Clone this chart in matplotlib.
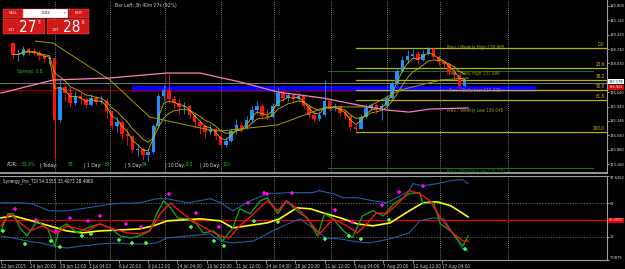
import matplotlib
matplotlib.use("Agg")
import matplotlib.pyplot as plt
import numpy as np
import pandas as pd
from matplotlib.patches import Rectangle

W, H = 625, 269
plt.rcParams['font.family'] = ['Liberation Sans Narrow', 'DejaVu Sans']
plt.rcParams['font.stretch'] = 'condensed'
FS = 3.3
AX_FS = 2.9

# ---- price candles (one candle = 3 H4 bars), first candle at bar 7
bar0 = 7
open0 = 139.00
closes = [138.45, 138.45, 138.70, 138.60, 138.55, 138.40, 138.25, 138.30, 135.30, 136.90,
          136.60, 136.10, 136.45, 136.30, 136.00, 136.35, 136.15, 136.20, 135.70, 135.00,
          135.20, 134.60, 134.50, 133.85, 133.90, 133.60, 133.75, 135.00, 136.45, 136.75,
          136.30, 136.10, 135.90, 135.95, 135.55, 135.20, 135.00, 134.70, 134.85, 134.50,
          134.10, 134.25, 134.75, 135.05, 134.90, 135.30, 135.75, 135.95, 135.50, 135.45,
          135.95, 136.60, 136.35, 136.50, 136.30, 136.45, 135.95, 135.55, 135.35, 135.55,
          136.20, 135.85, 135.95, 135.65, 135.50, 134.95, 134.85, 135.45, 135.85, 136.00,
          135.85, 135.95, 136.35, 137.05, 137.65, 138.20, 138.40, 138.50, 138.20, 138.50,
          138.70, 138.35, 138.10, 138.00, 137.60, 137.45, 136.95, 137.18]
highs = [139.05, 138.70, 138.85, 138.80, 138.75, 138.65, 138.50, 138.45, 138.35, 137.20,
         137.00, 136.90, 136.70, 136.60, 136.40, 136.55, 136.45, 136.50, 136.35, 135.70,
         135.45, 135.30, 134.90, 134.50, 134.15, 134.00, 133.95, 135.10, 136.60, 137.00,
         137.50, 136.45, 136.30, 136.15, 136.00, 135.60, 135.30, 135.10, 135.10, 134.90,
         134.60, 134.45, 134.85, 135.35, 135.20, 135.50, 135.95, 136.20, 136.05, 135.80,
         136.10, 136.90, 136.75, 136.65, 136.55, 136.60, 136.50, 136.00, 135.70, 135.70,
         137.20, 136.25, 136.10, 136.00, 135.80, 135.55, 135.10, 135.55, 136.05, 136.10,
         136.10, 136.10, 136.45, 137.15, 137.80, 138.40, 138.65, 138.75, 138.60, 138.65,
         138.80, 138.80, 138.45, 138.20, 138.10, 137.70, 137.45, 137.25]
lows = [138.30, 138.15, 138.40, 138.45, 138.40, 138.20, 138.05, 138.00, 133.40, 135.20,
        136.20, 135.90, 136.00, 136.05, 135.85, 135.95, 136.00, 136.05, 135.40, 134.80,
        134.70, 134.30, 134.10, 133.70, 133.55, 133.35, 133.30, 133.70, 134.90, 136.20,
        136.10, 135.80, 135.60, 135.60, 135.40, 134.90, 134.60, 134.40, 134.55, 134.30,
        133.95, 134.00, 134.20, 134.60, 134.70, 134.85, 135.20, 135.60, 135.35, 135.30,
        135.40, 135.95, 136.20, 136.20, 136.15, 136.20, 135.80, 135.40, 135.20, 135.25,
        135.50, 135.70, 135.70, 135.50, 135.35, 134.80, 134.70, 134.85, 135.40, 135.75,
        135.65, 135.30, 135.85, 136.30, 137.00, 137.60, 138.05, 138.30, 138.00, 138.15,
        138.45, 138.25, 137.95, 137.80, 137.45, 137.25, 136.85, 136.90]

# slow moving average and pink moving average, read as points (bar, price)
slow_x = [20, 30, 63, 86, 121, 127, 160, 188, 212, 231, 254, 270]
slow_y = [139.10, 139.01, 137.22, 135.43, 134.80, 134.76, 135.05, 135.92, 135.92, 136.74, 137.22, 137.32]
pink_x = [0, 30, 63, 96, 115, 138, 160, 186, 212, 223, 236, 248, 270]
pink_y = [136.59, 137.22, 137.32, 137.56, 137.56, 137.13, 136.64, 136.35, 135.92, 135.77, 135.67, 135.82, 135.87]

price_ticks = [140.800, 140.120, 139.420, 138.720, 138.030, 136.640, 135.940, 135.248, 134.550, 133.860, 133.160]
last_price = 137.08
red_line = 136.74
blue_zone = (76, 309, 136.66, 136.95)
fib_ratios = [0.0, 23.6, 38.2, 50.0, 61.8, 100.0]
fib_high, fib_low, fib_start = 138.77, 134.71, 205
green_lines = [137.66, 132.97]
separators = [31, 63, 95, 127, 158, 191, 223, 254, 293]

# ---- TDI indicator, read as points (bar, value)
up_x = [0, 11, 18, 28, 38, 50, 65, 80, 90, 96, 108, 121, 127, 134, 144, 154, 167, 180, 184, 192, 198,
        206, 215, 223, 231, 236, 238, 244, 252, 260, 267, 270]
up_v = [68.6, 68.6, 67.5, 60.0, 60.0, 63.2, 67.5, 68.6, 72.9, 72.9, 68.6, 72.9, 68.6, 60.0, 70.7, 78.3,
        79.4, 79.4, 81.5, 78.3, 74.0, 74.0, 70.7, 68.6, 76.1, 81.5, 89.0, 86.9, 89.0, 92.3, 93.3, 89.0]
lo_x = [0, 7, 15, 23, 30, 38, 47, 57, 67, 76, 84, 90, 96, 108, 121, 127, 134, 146, 157, 167, 173,
        180, 188, 196, 203, 212, 219, 227, 236, 242, 250, 256, 261, 267, 270]
lo_v = [33.1, 31.0, 27.7, 25.6, 22.4, 20.2, 22.4, 24.5, 25.6, 24.5, 24.5, 25.6, 31.0, 33.1, 35.3, 27.7,
        25.6, 27.7, 38.5, 47.1, 51.4, 41.7, 31.0, 29.9, 27.7, 25.6, 27.7, 31.0, 36.4, 49.2, 52.5, 51.4,
        36.4, 19.1, 17.0]
base_x = [0, 7, 18, 28, 38, 47, 57, 69, 80, 88, 96, 105, 115, 127, 134, 142, 154, 161, 171, 179, 186,
          196, 206, 215, 225, 236, 244, 252, 260, 270]
base_v = [52.5, 54.6, 49.2, 43.9, 38.5, 36.4, 38.5, 39.6, 40.6, 43.9, 49.2, 50.3, 51.4, 49.2, 41.7, 43.9,
          47.1, 51.4, 63.2, 62.1, 57.9, 52.5, 46.0, 43.9, 47.1, 60.0, 68.6, 69.6, 65.4, 53.5]
rsi_x = [0, 4, 7, 11, 15, 21, 27, 31, 34, 38, 44, 50, 57, 63, 69, 75, 80, 86, 90, 94, 98, 102, 108,
         113, 117, 123, 128, 134, 138, 144, 150, 154, 160, 165, 171, 177, 183, 187, 192, 198, 203, 209,
         215, 221, 227, 236, 242, 244, 250, 254, 260, 267, 270]
rsi_v = [38.5, 56.8, 56.8, 41.7, 33.1, 49.2, 40.6, 22.4, 41.7, 46.0, 36.4, 41.7, 46.0, 41.7, 33.1, 31.0,
         33.1, 38.5, 56.8, 70.7, 63.2, 52.5, 51.4, 46.0, 36.4, 38.5, 27.7, 41.7, 62.1, 56.8, 70.7, 74.0,
         56.8, 70.7, 60.0, 52.5, 33.1, 56.8, 51.4, 38.5, 31.0, 54.6, 60.0, 54.6, 67.5, 78.3, 79.4, 67.5,
         68.6, 46.0, 38.5, 22.4, 33.1]
sig_x = [0, 5, 11, 17, 24, 32, 38, 50, 57, 65, 73, 80, 86, 92, 98, 103, 111, 121, 127, 132, 138, 146,
         154, 160, 165, 173, 179, 184, 192, 200, 206, 212, 217, 223, 231, 236, 242, 248, 254, 261, 267, 270]
sig_v = [43.9, 56.8, 47.1, 38.5, 43.9, 35.3, 43.9, 38.5, 46.0, 40.6, 36.4, 35.3, 38.5, 56.8, 68.6, 60.0,
         49.2, 38.5, 33.1, 31.0, 43.9, 56.8, 70.7, 60.0, 70.7, 60.0, 47.1, 35.3, 51.4, 43.9, 36.4, 47.1,
         57.9, 56.8, 70.7, 81.5, 78.3, 70.7, 52.5, 36.4, 27.7, 27.7]
sell_x = [8, 20, 32, 40, 50, 57, 72, 81, 97, 113, 126, 143, 152, 154, 168, 193, 203, 220, 230, 244]
sell_v = [62.1, 50.3, 38.5, 52.5, 49.2, 54.6, 46.0, 42.8, 78.3, 57.9, 42.8, 68.6, 79.4, 78.3, 79.4,
          61.1, 48.2, 66.4, 80.4, 86.9]
buy_x = [1, 14, 29, 34, 47, 52, 68, 76, 84, 110, 123, 129, 146, 160, 187, 201, 208, 224, 268]
buy_v = [38.5, 24.5, 27.7, 21.3, 33.1, 35.3, 28.8, 25.6, 25.6, 42.8, 27.7, 22.4, 49.2, 48.2, 29.9,
         33.1, 29.9, 50.3, 19.1]

tdi_ticks = [97.6262, 68, 32, 7.0879]
date_labels = ["22 Jun 2015", "24 Jun 20:00", "29 Jun 12:00", "3 Jul 04:00", "6 Jul 20:00",
               "9 Jul 12:00", "14 Jul 04:00", "16 Jul 20:00", "21 Jul 12:00", "24 Jul 04:00",
               "28 Jul 20:00", "31 Jul 12:00", "5 Aug 04:00", "7 Aug 20:00", "12 Aug 12:00",
               "17 Aug 04:00"]


def fx(px):
    return px / W


def fy(py):
    return 1 - py / H


fig = plt.figure(figsize=(W / 100, H / 100), dpi=100, facecolor='black')
ax1 = fig.add_axes([0, fy(173), fx(607), 173 / H], facecolor='black')
ax2 = fig.add_axes([0, fy(260.3), fx(607), (260.3 - 175.6) / H], facecolor='black')
xlim = (-0.58, 350.3)

# ---- main panel
closes = np.array(closes)
opens = np.r_[open0, closes[:-1]]
xs = bar0 + 3 * np.arange(len(closes))
cols = np.where(closes >= opens, '#1e90ff', '#ff1010')
r, b0, p0, p1 = blue_zone
ax1.add_patch(Rectangle((r, p0), b0 - r, p1 - p0, color='#0000ff', lw=0, zorder=1))
ax1.axhline(red_line, color='#8b0000', lw=1.0, zorder=1)
ax1.axhline(last_price, color='#909090', lw=0.6, zorder=1)
for sx in separators:
    ax1.axvline(sx, color='#a0a0a0', lw=0.6, ls=(0, (1, 1.5)), zorder=1)
    ax2.axvline(sx, color='#a0a0a0', lw=0.6, ls=(0, (1, 1.5)), zorder=1)
for g in green_lines:
    ax1.plot([189, 342], [g, g], color='#1e6b1e', lw=0.8, zorder=1)
for fr in fib_ratios:
    lvl = fib_high - (fib_high - fib_low) * fr / 100
    ax1.plot([fib_start, xlim[1]], [lvl, lvl], color='#b5b500', lw=0.9, zorder=1)
    ax1.text(349, lvl + 0.03, '%.1f' % fr, color='#c8c800', fontsize=FS, ha='right', va='bottom')

ax1.vlines(xs, lows, highs, colors=cols, lw=0.6, zorder=3)
body = closes - opens
body = np.where(np.abs(body) < 0.03, 0.03, body)
ax1.bar(xs, body, bottom=opens, width=2.0, color=cols, lw=0, zorder=3)

ema_fast = pd.Series(closes).ewm(span=3).mean()
ema_mid = pd.Series(closes).ewm(span=7).mean()
ax1.plot(xs, ema_fast, color='#c8b400', lw=0.6, zorder=4)
ax1.plot(xs, ema_mid, color='#c8b400', lw=0.6, zorder=4)
ax1.plot(slow_x, slow_y, color='#a89a00', lw=0.7, zorder=4)
ax1.plot(pink_x, pink_y, color='#ff80c0', lw=0.9, zorder=4)

ax1.text(258, 138.78, 'Prev / Weekly High 138.965', color='#a0a000', fontsize=FS, va='center')
ax1.text(258, 137.55, 'Prev / Daily High 137.996', color='#909000', fontsize=FS, va='center')
ax1.text(259, 136.70, 'Prev / Daily Low 137.000', color='#d07070', fontsize=FS, va='center')
ax1.text(258, 135.73, 'Prev / Weekly Low 136.048', color='#8a9a30', fontsize=FS, va='center')
ax1.text(258, 132.80, 'Prev / Monthly Low 133.330', color='#1e6b1e', fontsize=FS, va='center')

ax1.set_xlim(*xlim)
ax1.set_ylim(132.725, 141.09)
ax1.set_xticks([])
ax1.yaxis.tick_right()
ax1.set_yticks(price_ticks)
ax1.set_yticklabels(['%.3f' % t for t in price_ticks])
ax1.tick_params(axis='y', colors='#e0e0e0', labelsize=AX_FS, length=1.5, width=0.5, pad=0.6)
for s in ['top', 'left']:
    ax1.spines[s].set_visible(False)
ax1.spines['right'].set_color('#a0a0a0')
ax1.spines['bottom'].set_color('#b0b0b0')
ax1.spines['bottom'].set_linewidth(1.2)
ytr1 = ax1.get_yaxis_transform()
ax1.text(1.003, last_price + 0.05, '137.178', transform=ytr1, color='black', fontsize=2.8,
         va='center', bbox=dict(facecolor='white', edgecolor='none', pad=0.3))
ax1.text(1.003, red_line + 0.12, '136.922', transform=ytr1, color='white', fontsize=2.8,
         va='center', bbox=dict(facecolor='#e00000', edgecolor='none', pad=0.3))

# ---- TDI panel
ax2.axhline(50, color='#e00000', lw=0.9, zorder=1)
for lv in [68, 32]:
    ax2.axhline(lv, color='#808080', lw=0.5, ls=(0, (2, 2)), zorder=1)
ax2.plot(up_x, up_v, color='#1f5fa8', lw=0.8)
ax2.plot(lo_x, lo_v, color='#1f5fa8', lw=0.8)
ax2.plot(base_x, base_v, color='#ffff00', lw=1.2)
ax2.plot(rsi_x, rsi_v, color='#10a010', lw=1.0)
ax2.plot(sig_x, sig_v, color='#ff1010', lw=1.0)
ax2.plot(sell_x, sell_v, ls='none', marker='+', ms=3.5, mew=1.1, color='#ff00ff')
ax2.plot(buy_x, buy_v, ls='none', marker='+', ms=3.5, mew=1.1, color='#40ff40')
ax2.set_xlim(*xlim)
ax2.set_ylim(7.0879, 97.6262)
ax2.yaxis.tick_right()
ax2.set_yticks(tdi_ticks)
ax2.set_yticklabels(['97.6262', '68', '32', '7.0879'])
ax2.tick_params(axis='y', colors='#e0e0e0', labelsize=AX_FS, length=1.5, width=0.5, pad=0.6)
labs = ax2.get_yticklabels()
labs[0].set_va('top')
labs[-1].set_va('bottom')
ax2.set_xticks(np.arange(len(date_labels)) * 17)
ax2.set_xticklabels(date_labels, ha='left')
ax2.tick_params(axis='x', colors='#d0d0d0', labelsize=FS, length=2, width=0.5, pad=1)
ax2.spines['left'].set_visible(False)
for s in ['top', 'right', 'bottom']:
    ax2.spines[s].set_color('#a0a0a0')
ax2.text(1.003, 50, '50.0000', transform=ax2.get_yaxis_transform(), color='white', fontsize=2.8,
         va='center', bbox=dict(facecolor='#e00000', edgecolor='none', pad=0.3))
ax2.text(0.005, 0.97, 'Synergy_Pro_TDI 54.5355 33.4073 28.4960', transform=ax2.transAxes,
         color='#e0e0e0', fontsize=FS, va='top')

# ---- overlay texts in the main panel
fig.text(fx(115), fy(5), 'Bar Left: 3h 40m 27s (92%)', color='#d0d0d0', fontsize=3.6, va='center')
fig.text(fx(17), fy(72), 'Spread: 0.8', color='#30b030', fontsize=3.6, va='center')
adr = [(7, 'ADR:', '#e0e0e0'), (22, '53.9%', '#20c020'), (40, '| Today:', '#e0e0e0'), (68, '55', '#20c020'),
       (84, '| 1 Day:', '#e0e0e0'), (105, '83', '#20c020'), (125, '| 5 Day:', '#e0e0e0'), (142, '84', '#20c020'),
       (165, '| 10 Day:', '#e0e0e0'), (185, '102', '#20c020'), (200, '| 20 Day:', '#e0e0e0'), (223, '101', '#20c020')]
for px, t, c in adr:
    fig.text(fx(px), fy(165), t, color=c, fontsize=3.6, va='center')

# ---- one-click trading panel
def box(x0, y0, x1, y1, color):
    fig.patches.append(Rectangle((fx(x0), fy(y1)), fx(x1 - x0), (y1 - y0) / H,
                                 transform=fig.transFigure, facecolor=color, edgecolor='#ff6060',
                                 lw=0.3, zorder=5))


box(3, 9, 23, 18, '#d41818')
box(23, 9, 68, 18, '#ffffff')
box(69, 9, 89, 18, '#d41818')
box(3, 19, 45, 34, '#d41818')
box(47, 19, 89, 34, '#d41818')
fig.text(fx(13), fy(13.5), 'SELL', color='white', fontsize=3.2, ha='center', va='center', zorder=6)
fig.text(fx(79), fy(13.5), 'BUY', color='white', fontsize=3.2, ha='center', va='center', zorder=6)
fig.text(fx(46), fy(13.5), '0.02', color='black', fontsize=3.2, ha='center', va='center', zorder=6)
fig.text(fx(27), fy(13.5), '-', color='#606060', fontsize=3.2, ha='center', va='center', zorder=6)
fig.text(fx(64), fy(13.5), '+', color='#606060', fontsize=3.2, ha='center', va='center', zorder=6)
for x0, big, small in [(4, '27', '8'), (48, '28', '6')]:
    fig.text(fx(x0 + 4), fy(30), '137', color='white', fontsize=3.2, va='center', zorder=6)
    fig.text(fx(x0 + 15), fy(27), big, color='white', fontsize=11, va='center', zorder=6)
    fig.text(fx(x0 + 34), fy(23), small, color='white', fontsize=3.4, va='center', zorder=6)

fig.savefig('out.png', dpi=100, facecolor='black')
